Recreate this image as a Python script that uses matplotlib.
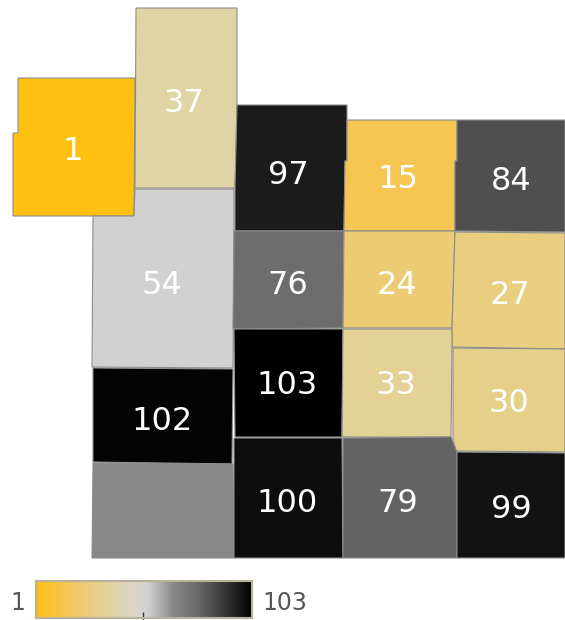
import numpy as np
import matplotlib
matplotlib.use("Agg")
import matplotlib.pyplot as plt
from matplotlib.colors import LinearSegmentedColormap, Normalize
from matplotlib.patches import Polygon

# Region values (None = no data / no label)
region_values = [1, 37, 54, 97, 15, 84, 76, 24, 27, 103, 33, 30, 102, None, 100, 79, 99]

# Region outlines, in reference map units
region_shapes = [
    [(18,78),(135,78),(134,216),(13,216),(13,133),(18,133)],
    [(136,8),(237,8),(237,105),(235,188),(135,188)],
    [(93,216),(134,216),(135,189),(234,189),(234,231),(233,368),(92,367)],
    [(237,105),(347,105),(347,161),(345,161),(344,231),(235,231),(235,188)],
    [(347,120),(457,120),(457,161),(455,161),(455,231),(344,231),(345,161),(347,161)],
    [(457,120),(565,120),(565,232),(455,231),(455,161),(457,161)],
    [(234,231),(344,231),(343,328),(233,329)],
    [(344,231),(455,231),(452,328),(343,328)],
    [(455,232),(565,233),(565,349),(452,347),(452,328)],
    [(234,329),(343,329),(342,437),(235,437)],
    [(343,329),(452,329),(452,347),(451,437),(342,437)],
    [(453,348),(565,349),(565,452),(456,451),(453,440)],
    [(93,368),(233,369),(232,464),(93,462)],
    [(93,463),(233,464),(234,558),(92,558)],
    [(234,438),(342,438),(343,558),(234,558)],
    [(343,438),(451,437),(457,452),(457,558),(343,558)],
    [(457,452),(565,453),(565,558),(457,558)],
]
label_points = [(73,151),(184,103),(162,285),(288,176),(398,179),(511,181),
                (288,285),(397,285),(510,295),(287,386),(396,385),(509,404),
                (162,421),None,(287,503),(398,504),(511,510)]

# Colour scale
scale_min, scale_max = 1, 103
stop_values = [1, 15, 24, 30, 37, 46, 54, 66, 76, 84, 97, 103]
stop_colors = ["#FFC012", "#F5C752", "#ECCB76", "#E6D08A", "#E0D3A4", "#DCD6C4",
               "#D2D2D2", "#888888", "#6E6E6E", "#505050", "#1B1B1B", "#000000"]
no_label_color = "#888888"

norm = Normalize(scale_min, scale_max)
cmap = LinearSegmentedColormap.from_list(
    "gold_grey", [(norm(v), c) for v, c in zip(stop_values, stop_colors)])

W, H = 565, 620
fig = plt.figure(figsize=(W / 100, H / 100), dpi=100, facecolor="white")
ax = fig.add_axes([0, 0, 1, 1])
ax.set_xlim(0, W)
ax.set_ylim(H, 0)
ax.axis("off")

for value, shape, point in zip(region_values, region_shapes, label_points):
    face = no_label_color if value is None else cmap(norm(value))
    ax.add_patch(Polygon(shape, closed=True, facecolor=face,
                         edgecolor="#8C8C8C", linewidth=0.8, joinstyle="miter"))
    if value is not None:
        ax.text(point[0], point[1], str(value), color="white", fontsize=23,
                ha="center", va="center", family="DejaVu Sans")

# Legend colour bar
cax = fig.add_axes([36 / W, 1 - 618 / H, 216 / W, 37 / H])
cax.imshow(np.linspace(scale_min, scale_max, 256)[None, :], aspect="auto",
           cmap=cmap, norm=norm, extent=(scale_min, scale_max, 0, 1))
cax.set_xticks([(scale_min + scale_max) / 2 - 0.5])
cax.set_xticklabels([""])
cax.set_yticks([])
cax.tick_params(axis="x", direction="inout", length=9, width=1, color="#333333")
for spine in cax.spines.values():
    spine.set_color("#B8B29C")
    spine.set_linewidth(1.5)

ax.text(18, 603, str(scale_min), color="#555555", fontsize=17, ha="center", va="center")
ax.text(285, 603, str(scale_max), color="#555555", fontsize=17, ha="center", va="center")

fig.savefig("out.png", dpi=100, facecolor="white")
